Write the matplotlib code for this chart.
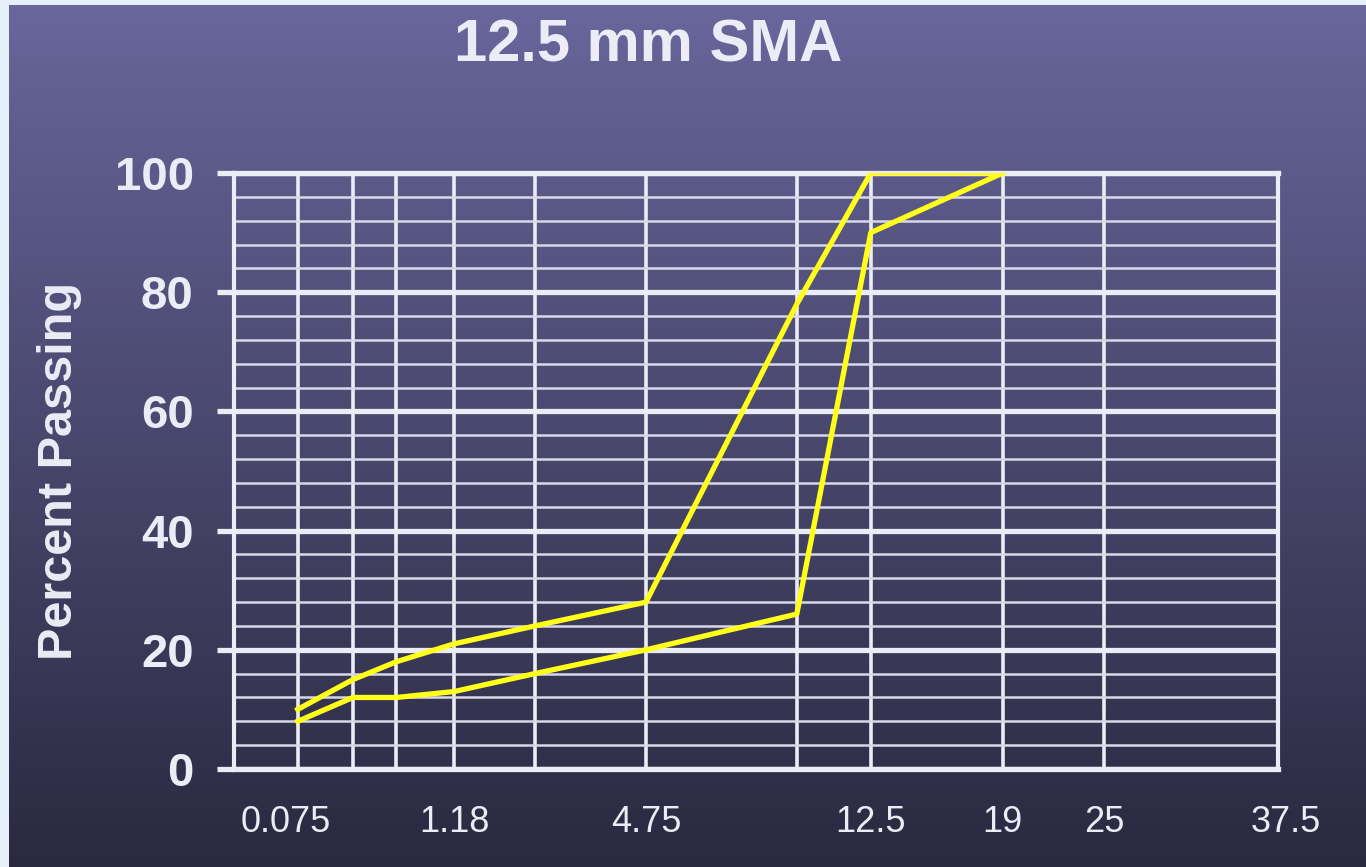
import numpy as np
import matplotlib
matplotlib.use('Agg')
import matplotlib.pyplot as plt
from matplotlib.transforms import ScaledTranslation

# sieve sizes (mm) and gradation band limits (% passing)
sieves = [0.075, 0.3, 0.6, 1.18, 2.36, 4.75, 9.5, 12.5, 19]
upper = [10, 15, 18, 21, 24, 28, 78, 100, 100]
lower = [8, 12, 12, 13, 16, 20, 26, 90, 100]

grid_sieves = [0.075, 0.3, 0.6, 1.18, 2.36, 4.75, 9.5, 12.5, 19, 25, 37.5]
grid_names = ['0.075', '0.3', '0.6', '1.18', '2.36', '4.75', '9.5', '12.5', '19', '25', '37.5']
labeled = ['0.075', '1.18', '4.75', '12.5', '19', '25', '37.5']

FG = '#ececf6'
plt.rcParams['font.family'] = ['Liberation Sans', 'DejaVu Sans']


def fwd(x):
    x = np.asarray(x, dtype=float)
    return np.sign(x) * np.abs(x) ** 0.45


def inv(y):
    y = np.asarray(y, dtype=float)
    return np.sign(y) * np.abs(y) ** (1 / 0.45)


fig = plt.figure(figsize=(13.66, 8.67), dpi=100)
fig.patch.set_facecolor('#e6f0fb')

# slide background gradient
bg = fig.add_axes([9 / 1366, 0, 1 - 9 / 1366, 1 - 5 / 867], zorder=-5)
t = np.linspace(0, 1, 256)[:, None, None]
top = np.array([0.408, 0.400, 0.608])
bot = np.array([0.165, 0.161, 0.250])
img = top * (1 - t) + bot * t
bg.imshow(img, aspect='auto', extent=[0, 1, 0, 1])
bg.axis('off')

ax = fig.add_axes([234 / 1366, 1 - 769 / 867, (1278 - 234) / 1366, (769 - 173) / 867])
ax.set_facecolor('none')
ax.set_xscale('function', functions=(fwd, inv))
ax.set_xlim(0, 37.5)
ax.set_ylim(0, 100)

ax.plot(sieves, upper, color='#ffff1a', lw=3.8, zorder=5)
ax.plot(sieves, lower, color='#ffff1a', lw=3.8, zorder=5)

# x grid / ticks
ax.set_xticks(grid_sieves)
ax.set_xticklabels([s if s in labeled else '' for s in grid_names])
ax.xaxis.set_minor_locator(matplotlib.ticker.NullLocator())
ax.tick_params(axis='x', length=0, pad=26, labelsize=26, labelcolor=FG)
ax.grid(True, axis='x', which='major', color=FG, lw=2.6, zorder=1)

# y grid / ticks
ax.set_yticks(range(0, 101, 20))
ax.set_yticks(range(0, 101, 4), minor=True)
ax.tick_params(axis='y', which='major', length=12, width=3.8, color=FG, pad=17,
               labelsize=34, labelcolor=FG)
ax.tick_params(axis='y', which='minor', length=0)
for lbl in ax.get_yticklabels():
    lbl.set_fontweight('bold')
ax.grid(True, axis='y', which='major', color=FG, lw=3.8, zorder=1)
ax.grid(True, axis='y', which='minor', color='#d8d8e8', lw=1.8, zorder=1)

for side in ['top', 'bottom']:
    ax.spines[side].set_color(FG)
    ax.spines[side].set_linewidth(3.8)
for side in ['left', 'right']:
    ax.spines[side].set_color(FG)
    ax.spines[side].set_linewidth(3.0)

# nudge the end labels like in the original slide
xl = ax.get_xticklabels()
xl[0].set_transform(xl[0].get_transform() + ScaledTranslation(-0.12, 0, fig.dpi_scale_trans))
xl[-1].set_transform(xl[-1].get_transform() + ScaledTranslation(0.08, 0, fig.dpi_scale_trans))

fig.text(648 / 1366, 1 - 46 / 867, '12.5 mm SMA', ha='center', va='center',
         fontsize=43, fontweight='bold', color=FG)
fig.text(60 / 1366, 1 - 471 / 867, 'Percent Passing', ha='center', va='center',
         rotation=90, fontsize=35, fontweight='bold', color=FG)

fig.savefig('out.png', dpi=100, facecolor=fig.get_facecolor())
